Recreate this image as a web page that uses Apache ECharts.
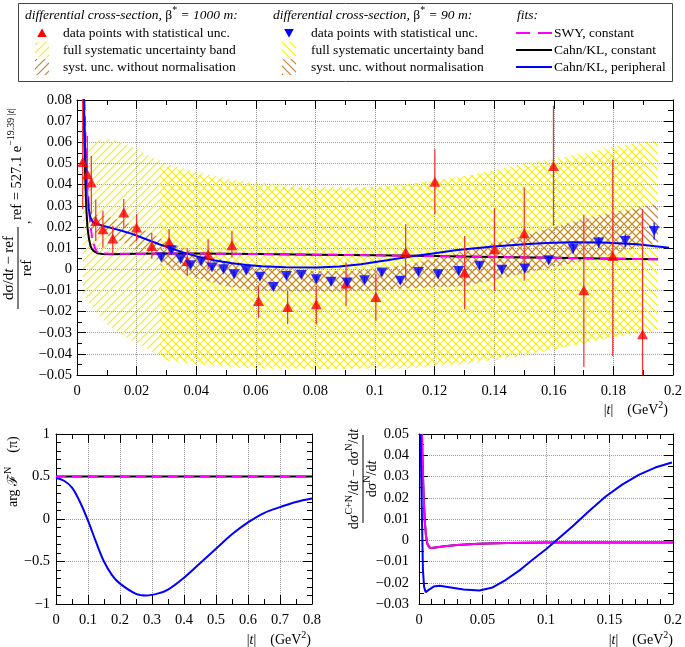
<!DOCTYPE html>
<html><head><meta charset="utf-8">
<script src="https://cdn.jsdelivr.net/npm/echarts@6/dist/echarts.min.js"></script>
<style>html,body{margin:0;padding:0;background:#fff}#c{width:685px;height:647px}</style>
</head><body><div id="c"></div>
<script>
// ---------------- DATA ----------------
// tick labels
const topXTicks = [0,0.02,0.04,0.06,0.08,0.1,0.12,0.14,0.16,0.18,0.2];
const topYTicks = [-0.05,-0.04,-0.03,-0.02,-0.01,0,0.01,0.02,0.03,0.04,0.05,0.06,0.07,0.08];
const blXTicks = [0,0.1,0.2,0.3,0.4,0.5,0.6,0.7,0.8];
const blYTicks = [-1,-0.5,0,0.5,1];
const brXTicks = [0,0.05,0.1,0.15,0.2];
const brYTicks = [-0.03,-0.02,-0.01,0,0.01,0.02,0.03,0.04,0.05];

// beta* = 1000 m data points (red)
const redX  = [0.0019,0.0035,0.0048,0.0063,0.0087,0.012,0.0157,0.020,0.0251,0.0309,0.037,0.044,0.052,0.0609,0.0707,0.0803,0.0903,0.1003,0.1103,0.1201,0.1301,0.1401,0.1501,0.1599,0.1701,0.1798,0.1898];
const redY  = [0.0507,0.0449,0.041,0.0228,0.0189,0.0145,0.0268,0.0197,0.011,0.0129,0.0039,0.0071,0.0113,-0.015,-0.0178,-0.0166,-0.0068,-0.0131,0.0082,0.0414,-0.0016,0.0095,0.017,0.0488,-0.0099,0.0063,-0.0307];
const redLo = [0.0285,0.029,0.026,0.0134,0.0102,0.0072,0.0197,0.0134,0.0049,0.0072,-0.0032,0.0,0.0055,-0.0229,-0.026,-0.026,-0.0174,-0.0244,-0.0055,0.026,-0.0189,-0.0103,-0.0055,0.0205,-0.0462,-0.041,-0.0528];
const redHi = [0.085,0.063,0.0535,0.033,0.0276,0.0205,0.0332,0.026,0.0173,0.019,0.0102,0.0142,0.018,-0.0079,-0.0103,-0.0079,0.0031,-0.0024,0.0213,0.0567,0.0157,0.0288,0.0386,0.0772,0.0257,0.052,0.0284];

// beta* = 90 m data points (blue)
const blueX  = [0.0283,0.0317,0.0348,0.0381,0.0417,0.0453,0.0492,0.0527,0.0568,0.0614,0.0659,0.0703,0.0753,0.0803,0.0853,0.0907,0.0965,0.1023,0.1085,0.1146,0.1212,0.1281,0.1351,0.1426,0.1503,0.1583,0.1665,0.1751,0.184,0.1937];
const blueY  = [0.0055,0.009,0.0047,0.0019,0.0036,0.0008,0.0,-0.0024,-0.0006,-0.0036,-0.0084,-0.0032,-0.0027,-0.0047,-0.0059,-0.0063,-0.0052,-0.0016,-0.0055,-0.0013,-0.0024,-0.0008,0.0016,-0.0003,0.0003,0.0043,0.0097,0.0126,0.0134,0.0181];
const blueErr= [0.0012,0.0012,0.0012,0.0012,0.0012,0.0012,0.0012,0.0013,0.0013,0.0013,0.0013,0.0013,0.0013,0.0014,0.0014,0.0014,0.0015,0.0015,0.0015,0.0016,0.0016,0.0017,0.0017,0.0018,0.0019,0.002,0.0022,0.0025,0.003,0.004];

// full systematic uncertainty bands (yellow)
const band1000X  = [0.002,0.005,0.01,0.015,0.02,0.025,0.03,0.04,0.05,0.06,0.07,0.08,0.09,0.1,0.11,0.12,0.13,0.14,0.15,0.16,0.17,0.18,0.19];
const band1000Hi = [0.055,0.06,0.062,0.06,0.057,0.053,0.05,0.046,0.043,0.041,0.04,0.039,0.039,0.039,0.04,0.042,0.044,0.046,0.048,0.05,0.053,0.056,0.058];
const band1000Lo = [-0.012,-0.018,-0.026,-0.031,-0.035,-0.039,-0.042,-0.044,-0.045,-0.046,-0.046,-0.047,-0.047,-0.047,-0.047,-0.046,-0.045,-0.043,-0.041,-0.038,-0.035,-0.032,-0.029];
const band90X  = [0.028,0.04,0.05,0.06,0.07,0.08,0.09,0.1,0.11,0.12,0.13,0.14,0.15,0.16,0.17,0.18,0.195];
const band90Hi = [0.049,0.045,0.042,0.04,0.039,0.038,0.038,0.039,0.04,0.042,0.044,0.047,0.05,0.052,0.055,0.058,0.061];
const band90Lo = [-0.043,-0.045,-0.046,-0.047,-0.047,-0.047,-0.047,-0.046,-0.046,-0.045,-0.044,-0.042,-0.04,-0.038,-0.035,-0.032,-0.029];

// syst. unc. without normalisation (brown)
const brown1000X  = [0.005,0.01,0.015,0.02,0.025,0.03,0.04,0.05,0.06,0.07,0.08,0.09,0.1,0.11,0.12,0.13,0.14,0.15,0.16,0.17,0.18,0.19];
const brown1000Hi = [0.026,0.025,0.023,0.02,0.017,0.013,0.008,0.004,0.002,0.0,-0.001,-0.001,0.0,0.002,0.005,0.008,0.012,0.016,0.02,0.023,0.026,0.029];
const brown1000Lo = [0.018,0.016,0.013,0.009,0.006,0.002,-0.004,-0.008,-0.01,-0.0105,-0.0105,-0.0105,-0.01,-0.009,-0.0085,-0.008,-0.005,-0.002,0.001,0.004,0.007,0.011];
const brown90X  = [0.028,0.035,0.04,0.05,0.06,0.07,0.08,0.09,0.1,0.11,0.12,0.13,0.14,0.15,0.16,0.17,0.18,0.195];
const brown90Hi = [0.011,0.008,0.006,0.004,0.002,0.0,-0.001,-0.001,0.0,0.002,0.005,0.009,0.012,0.016,0.02,0.024,0.027,0.031];
const brown90Lo = [0.002,-0.002,-0.004,-0.008,-0.01,-0.0105,-0.0105,-0.0105,-0.01,-0.009,-0.0085,-0.008,-0.005,-0.002,0.001,0.004,0.008,0.0126];

// fits, top panel
const topBlackX = [0.0019,0.0022,0.0026,0.0029,0.0032,0.0035,0.004,0.0045,0.005,0.0059,0.007,0.0085,0.012,0.02,0.03,0.04,0.06,0.08,0.1,0.12,0.14,0.16,0.18,0.195];
const topBlackY = [0.1,0.08,0.052,0.037,0.027,0.02,0.0145,0.0112,0.0095,0.0083,0.0075,0.0072,0.0071,0.0073,0.0074,0.0074,0.0072,0.0069,0.0066,0.0062,0.0058,0.0054,0.005,0.0047];
const topSwyX = [0.0022,0.0027,0.003,0.0035,0.004,0.0045,0.005,0.0053,0.006,0.0067,0.008,0.01,0.015,0.02,0.03,0.04,0.06,0.08,0.1,0.12,0.14,0.16,0.18,0.195];
const topSwyY = [0.095,0.07,0.055,0.04,0.029,0.021,0.0155,0.0134,0.0100,0.0082,0.0076,0.0074,0.0073,0.0073,0.0074,0.0074,0.0072,0.0069,0.0066,0.0062,0.0058,0.0054,0.005,0.0047];
const topPeriX = [0.0021,0.0024,0.0028,0.0032,0.0035,0.004,0.0045,0.0052,0.006,0.0075,0.009,0.012,0.015,0.0187,0.023,0.0276,0.032,0.0364,0.0414,0.0464,0.052,0.057,0.062,0.07,0.0807,0.088,0.0953,0.104,0.112,0.12,0.1276,0.1398,0.15,0.1576,0.166,0.1764,0.188,0.1987];
const topPeriY = [0.09,0.075,0.055,0.042,0.034,0.028,0.0245,0.0225,0.0217,0.021,0.0204,0.0193,0.0182,0.0166,0.0143,0.0118,0.0096,0.0076,0.0056,0.0041,0.0028,0.002,0.0014,0.0009,0.0008,0.0013,0.0024,0.0042,0.006,0.0076,0.0091,0.0107,0.0118,0.0124,0.0127,0.0126,0.0118,0.0102];

// fits, phase panel (bottom left)
const phaseConstX = [0,0.8];
const phaseConstY = [0.5,0.5];
const phasePeriX = [0,0.025,0.05,0.075,0.1,0.125,0.15,0.175,0.2,0.25,0.2825,0.32,0.35,0.4,0.45,0.5,0.55,0.6,0.65,0.7,0.75,0.8];
const phasePeriY = [0.482,0.45,0.37,0.2,-0.02,-0.27,-0.5,-0.66,-0.76,-0.88,-0.9,-0.875,-0.83,-0.69,-0.52,-0.35,-0.18,-0.04,0.07,0.14,0.2,0.24];

// fits, Coulomb effect panel (bottom right)
const coulSwyX = [0.0023,0.003,0.0037,0.0045,0.0055,0.0065,0.008,0.0097,0.013,0.02,0.03,0.047,0.07,0.1,0.15,0.2];
const coulSwyY = [0.05,0.033,0.02,0.0096,0.002,-0.0015,-0.0033,-0.0037,-0.0034,-0.0028,-0.0022,-0.0017,-0.0013,-0.0011,-0.001,-0.001];
const coulPeriX = [0.0012,0.0019,0.0025,0.0031,0.004,0.0053,0.008,0.0115,0.0162,0.025,0.035,0.0476,0.058,0.0685,0.08,0.0894,0.1,0.1078,0.1208,0.134,0.147,0.16,0.173,0.186,0.1992];
const coulPeriY = [0.05,0.025,0.005,-0.0139,-0.022,-0.0244,-0.0232,-0.0218,-0.0214,-0.0222,-0.0232,-0.0236,-0.0222,-0.0186,-0.0138,-0.0092,-0.0042,-0.0002,0.0065,0.0138,0.0206,0.0262,0.0308,0.0342,0.0366];

// ---------------- STYLE HELPERS ----------------
const FONT = '"Liberation Serif","Times New Roman",serif';
const RED = '#ff0000', BLUE = '#0000ff', MAG = '#ff00ff', YEL = '#f2f200', BROWN = '#c4833f';

function hatch(color, dir, size, lw) {
  const c = document.createElement('canvas'); c.width = size; c.height = size;
  const g = c.getContext('2d'); g.strokeStyle = color; g.lineWidth = lw; g.beginPath();
  if (dir > 0) {
    g.moveTo(-1, size + 1); g.lineTo(size + 1, -1);
    g.moveTo(-2, 2); g.lineTo(2, -2);
    g.moveTo(size - 2, size + 2); g.lineTo(size + 2, size - 2);
  } else {
    g.moveTo(-1, -1); g.lineTo(size + 1, size + 1);
    g.moveTo(size - 2, -2); g.lineTo(size + 2, 2);
    g.moveTo(-2, size - 2); g.lineTo(2, size + 2);
  }
  g.stroke();
  return { image: c, repeat: 'repeat' };
}
const patYel1000 = hatch(YEL, 1, 8, 1.1);
const patYel90 = hatch(YEL, -1, 8, 1.1);
const patBr1000 = hatch(BROWN, 1, 8, 1.2);
const patBr90 = hatch(BROWN, -1, 8, 1.2);

function fmt(v) {
  if (Math.abs(v) < 1e-9) return '0';
  return (v < 0 ? '\u2212' : '') + parseFloat(Math.abs(v).toFixed(4)).toString();
}
function step(t) { return +(t[1] - t[0]).toFixed(6); }

function axisPair(kind, grid, ticks, minorSplit, margin) {
  const base = {
    type: 'value', gridIndex: grid, min: ticks[0], max: ticks[ticks.length - 1], interval: step(ticks),
    axisLine: { show: true, onZero: false, lineStyle: { color: '#000', width: 1 } },
    axisTick: { show: true, inside: true, length: 9, lineStyle: { color: '#000' } },
    minorTick: { show: true, splitNumber: minorSplit, length: 5, lineStyle: { color: '#000' } },
    minorSplitLine: { show: false }
  };
  const main = Object.assign({}, base, {
    position: kind === 'x' ? 'bottom' : 'left',
    splitLine: { show: true, lineStyle: { color: '#999', type: 'dotted', width: 1 } },
    axisLabel: { show: true, margin: margin, color: '#000', fontFamily: FONT, fontSize: 14.5, formatter: fmt }
  });
  const opp = Object.assign({}, base, {
    position: kind === 'x' ? 'top' : 'right',
    splitLine: { show: false }, axisLabel: { show: false }
  });
  return [main, opp];
}

function pairs(xs, ys) { return xs.map((x, i) => [x, ys[i]]); }

function bandSeries(xs, hi, lo, pat, ai, z) {
  return {
    type: 'custom', xAxisIndex: ai, yAxisIndex: ai, z: z, silent: true, clip: true,
    data: [[xs[0], hi[0]]],
    renderItem: function (params, api) {
      const pts = [];
      for (let i = 0; i < xs.length; i++) pts.push(api.coord([xs[i], hi[i]]));
      for (let i = xs.length - 1; i >= 0; i--) pts.push(api.coord([xs[i], lo[i]]));
      return { type: 'polygon', shape: { points: pts }, style: { fill: pat, stroke: null } };
    }
  };
}
function errSeries(xs, lo, hi, color, lw, ai, z) {
  return {
    type: 'custom', xAxisIndex: ai, yAxisIndex: ai, z: z, silent: true, clip: true,
    data: xs.map((x, i) => [x, lo[i], hi[i]]),
    encode: { x: 0, y: [1, 2] },
    renderItem: function (params, api) {
      const a = api.coord([api.value(0), api.value(1)]);
      const b = api.coord([api.value(0), api.value(2)]);
      return { type: 'line', shape: { x1: a[0], y1: a[1], x2: b[0], y2: b[1] }, style: { stroke: color, lineWidth: lw } };
    }
  };
}
function lineSeries(xs, ys, color, ai, z, dash, smooth) {
  return {
    type: 'line', xAxisIndex: ai, yAxisIndex: ai, z: z, data: pairs(xs, ys), showSymbol: false, symbol: 'none',
    clip: true, smooth: smooth || false, silent: true,
    lineStyle: { color: color, width: 2, type: dash || 'solid' }
  };
}

// rich text styles
function rich(sz, italic) {
  const LH = Math.round(sz * 1.45);
  return {
    i: { fontFamily: FONT, fontSize: sz, fontStyle: 'italic', lineHeight: LH },
    n: { fontFamily: FONT, fontSize: sz, fontStyle: 'normal', lineHeight: LH },
    s: { fontFamily: FONT, fontSize: Math.round(sz * 0.72), fontStyle: 'normal', verticalAlign: 'top', lineHeight: Math.round(sz * 0.72) },
    si: { fontFamily: FONT, fontSize: Math.round(sz * 0.72), fontStyle: 'italic', verticalAlign: 'top', lineHeight: Math.round(sz * 0.72) }
  };
}
function txt(text, x, y, o) {
  o = o || {};
  const sz = o.size || 13.5;
  return {
    type: 'text', x: x, y: y, silent: true, z: 100,
    style: {
      text: text, fontFamily: FONT, fontSize: sz, fontStyle: o.italic ? 'italic' : 'normal',
      lineHeight: Math.round(sz * 1.45), fill: '#000',
      align: o.align || 'left', verticalAlign: o.va || 'middle',
      textAlign: o.align || 'left', textVerticalAlign: o.va || 'middle',
      rich: rich(sz, o.italic)
    }
  };
}
function seg(x1, y1, x2, y2, color, w, dash) {
  return { type: 'line', silent: true, z: 100, shape: { x1, y1, x2, y2 }, style: { stroke: color, lineWidth: w, lineDash: dash || null } };
}

// ---------------- CHART ----------------
const chart = echarts.init(document.getElementById('c'), null, { renderer: 'canvas' });

const xAxes = [].concat(
  axisPair('x', 0, topXTicks, 2, 9),
  axisPair('x', 1, blXTicks, 2, 9),
  axisPair('x', 2, brXTicks, 5, 9)
);
const yAxes = [].concat(
  axisPair('y', 0, topYTicks, 2, 5),
  axisPair('y', 1, blYTicks, 5, 6),
  axisPair('y', 2, brYTicks, 2, 10)
);

const series = [
  bandSeries(band1000X, band1000Hi, band1000Lo, patYel1000, 0, 1),
  bandSeries(band90X, band90Hi, band90Lo, patYel90, 0, 1),
  bandSeries(brown1000X, brown1000Hi, brown1000Lo, patBr1000, 0, 2),
  bandSeries(brown90X, brown90Hi, brown90Lo, patBr90, 0, 2),
  lineSeries(topBlackX, topBlackY, '#000', 0, 3),
  lineSeries(topSwyX, topSwyY, MAG, 0, 4, [10, 6]),
  lineSeries(topPeriX, topPeriY, BLUE, 0, 5),
  errSeries(redX, redLo, redHi, '#ff2a2a', 1.2, 0, 6),
  errSeries(blueX, blueY.map((v, i) => v - blueErr[i]), blueY.map((v, i) => v + blueErr[i]), BLUE, 1.2, 0, 6),
  { type: 'scatter', xAxisIndex: 0, yAxisIndex: 0, z: 7, silent: true, data: pairs(redX, redY),
    symbol: 'triangle', symbolSize: [11, 10], itemStyle: { color: RED } },
  { type: 'scatter', xAxisIndex: 0, yAxisIndex: 0, z: 7, silent: true, data: pairs(blueX, blueY),
    symbol: 'triangle', symbolRotate: 180, symbolSize: [11, 10], itemStyle: { color: BLUE } },
  // bottom left
  lineSeries(phaseConstX, phaseConstY, '#000', 2, 3),
  lineSeries(phaseConstX, phaseConstY, MAG, 2, 4, [10, 6]),
  lineSeries(phasePeriX, phasePeriY, BLUE, 2, 5, null, 0.35),
  // bottom right
  lineSeries(coulSwyX, coulSwyY, '#000', 4, 3),
  lineSeries(coulSwyX, coulSwyY, MAG, 4, 4),
  lineSeries(coulPeriX, coulPeriY, BLUE, 4, 5)
];

const R = Math.PI / 2;
const graphic = [
  // legend box
  { type: 'rect', silent: true, z: 90, shape: { x: 18.5, y: 3.5, width: 654, height: 78 }, style: { fill: '#fff', stroke: '#444', lineWidth: 1 } },
  txt('differential cross-section, {n|β}{s|*} = 1000 m:', 25, 15, { italic: true }),
  txt('differential cross-section, {n|β}{s|*} = 90 m:', 273, 15, { italic: true }),
  txt('fits:', 517, 15, { italic: true }),
  { type: 'polygon', silent: true, z: 100, shape: { points: [[42, 28.5], [46.8, 37], [37.2, 37]] }, style: { fill: RED } },
  { type: 'polygon', silent: true, z: 100, shape: { points: [[284.2, 29], [293.8, 29], [289, 37.5]] }, style: { fill: BLUE } },
  { type: 'rect', silent: true, z: 100, shape: { x: 35, y: 42, width: 14, height: 15 }, style: { fill: patYel1000 } },
  { type: 'rect', silent: true, z: 100, shape: { x: 35, y: 59, width: 14, height: 16 }, style: { fill: patBr1000 } },
  { type: 'rect', silent: true, z: 100, shape: { x: 282, y: 42, width: 14, height: 15 }, style: { fill: patYel90 } },
  { type: 'rect', silent: true, z: 100, shape: { x: 282, y: 59, width: 14, height: 16 }, style: { fill: patBr90 } },
  txt('data points with statistical unc.', 63, 33),
  txt('full systematic uncertainty band', 63, 50),
  txt('syst. unc. without normalisation', 63, 67),
  txt('data points with statistical unc.', 311, 33),
  txt('full systematic uncertainty band', 311, 50),
  txt('syst. unc. without normalisation', 311, 67),
  seg(516, 33, 552, 33, MAG, 2, [14, 8]),
  seg(516, 50, 552, 50, '#000', 2),
  seg(516, 67, 552, 67, BLUE, 2),
  txt('SWY, constant', 554, 33),
  txt('Cahn/KL, constant', 554, 50),
  txt('Cahn/KL, peripheral', 554, 67),

  // top y-axis title (rotated)
  { type: 'group', x: 18, y: 268, rotation: R, silent: true, children: [
    txt('dσ/d{i|t} − ref', 0, -9, { size: 15, align: 'center' }),
    seg(-41, 0, 41, 0, '#000', 1),
    txt('ref', 0, 9, { size: 15, align: 'center' }),
    txt(',', 44, 8, { size: 14 }),
    txt('ref = 527.1 e{s|−19.39 |}{si|t}{s||}', 48, -1, { size: 14.5 })
  ] },
  // bottom-left y-axis title
  { type: 'group', x: 13, y: 507, rotation: R, silent: true, children: [
    txt('arg ℱ{s|N}    (π)', 0, 0, { size: 14 })
  ] },
  // bottom-right y-axis title
  { type: 'group', x: 363, y: 479, rotation: R, silent: true, children: [
    txt('dσ{s|C+N}/d{i|t} − dσ{s|N}/d{i|t}', 0, -9, { size: 14, align: 'center' }),
    seg(-44, 0, 44, 0, '#000', 1),
    txt('dσ{s|N}/d{i|t}', 0, 9, { size: 14, align: 'center' })
  ] },
  // x-axis titles
  txt('|{i|t}|    (GeV{s|2})', 668, 410, { size: 14, align: 'right' }),
  txt('|{i|t}|    (GeV{s|2})', 311, 640, { size: 14, align: 'right' }),
  txt('|{i|t}|    (GeV{s|2})', 673, 640, { size: 14, align: 'right' })
];

chart.setOption({
  animation: false,
  backgroundColor: '#fff',
  grid: [
    { left: 77, top: 100, width: 600, height: 275, containLabel: false },
    { left: 56, top: 434, width: 256, height: 170, containLabel: false },
    { left: 419, top: 434, width: 255, height: 170, containLabel: false }
  ],
  xAxis: xAxes,
  yAxis: yAxes,
  series: series,
  graphic: graphic
});
</script></body></html>
